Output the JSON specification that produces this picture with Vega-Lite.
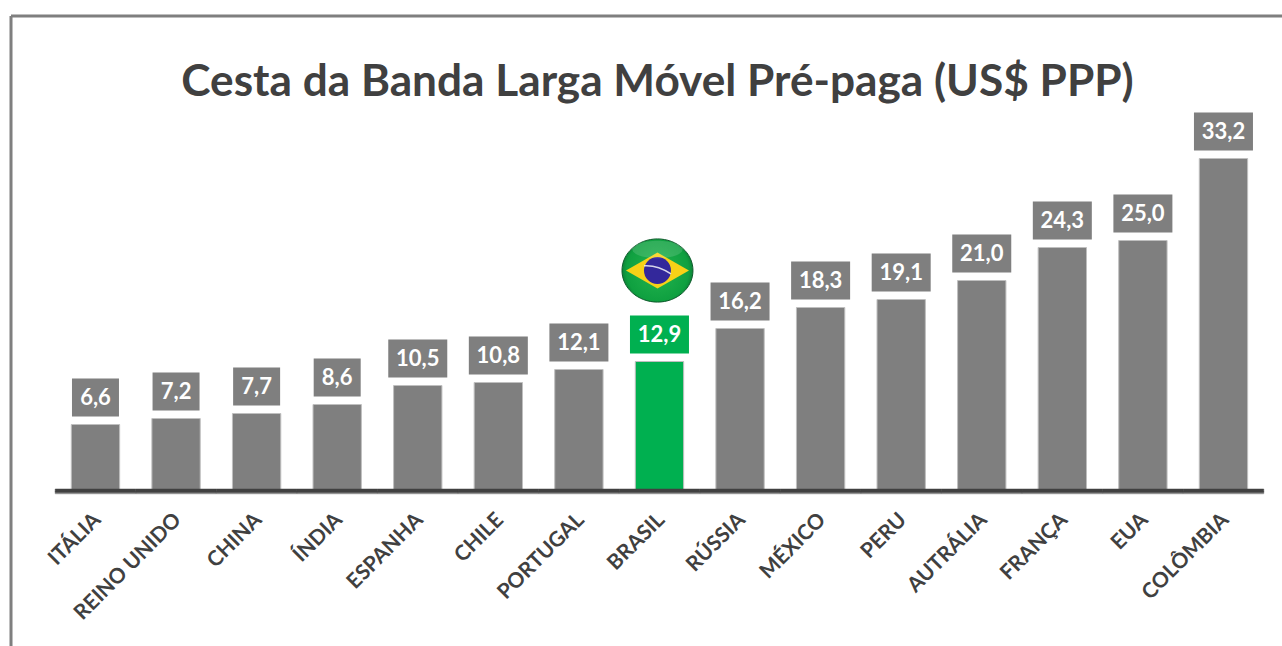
{
  "$schema": "https://vega.github.io/schema/vega-lite/v6.json",
  "width": 1272,
  "height": 631,
  "autosize": "none",
  "padding": {"left": 10.5, "top": 15.5, "right": 0, "bottom": 0},
  "background": "white",
  "config": {"view": {"stroke": null}, "font": "Lato", "locale": {"number": {"decimal": ",", "thousands": ".", "grouping": [3], "currency": ["R$", ""]}}},
  "title": {"text": "Cesta da Banda Larga Móvel Pré-paga (US$ PPP)", "font": "Lato", "fontSize": 44.2, "fontWeight": "bold", "color": "#404040", "anchor": "middle", "dx": 11, "dy": 134, "offset": 0, "baseline": "bottom"},
  "data": {"values": [
    {"pais": "ITÁLIA", "valor": 6.6, "destaque": "Outros"},
    {"pais": "REINO UNIDO", "valor": 7.2, "destaque": "Outros"},
    {"pais": "CHINA", "valor": 7.7, "destaque": "Outros"},
    {"pais": "ÍNDIA", "valor": 8.6, "destaque": "Outros"},
    {"pais": "ESPANHA", "valor": 10.5, "destaque": "Outros"},
    {"pais": "CHILE", "valor": 10.8, "destaque": "Outros"},
    {"pais": "PORTUGAL", "valor": 12.1, "destaque": "Outros"},
    {"pais": "BRASIL", "valor": 12.9, "destaque": "Brasil"},
    {"pais": "RÚSSIA", "valor": 16.2, "destaque": "Outros"},
    {"pais": "MÉXICO", "valor": 18.3, "destaque": "Outros"},
    {"pais": "PERU", "valor": 19.1, "destaque": "Outros"},
    {"pais": "AUTRÁLIA", "valor": 21.0, "destaque": "Outros"},
    {"pais": "FRANÇA", "valor": 24.3, "destaque": "Outros"},
    {"pais": "EUA", "valor": 25.0, "destaque": "Outros"},
    {"pais": "COLÔMBIA", "valor": 33.2, "destaque": "Outros"}
  ]},
  "resolve": {"axis": {"x": "independent"}},
  "encoding": {
    "x": {"field": "pais", "type": "nominal", "sort": null,
      "scale": {"type": "band", "paddingInner": 0, "paddingOuter": 0.3937, "align": 0.7045},
      "axis": null},
    "y": {"field": "valor", "type": "quantitative",
      "scale": {"domain": [-15.6, 47.5], "nice": false, "zero": false},
      "axis": {"orient": "left", "title": null, "labels": false, "ticks": false, "grid": false, "domain": true, "domainColor": "#7f7f7f", "domainWidth": 3}}
  },
  "layer": [
    {
      "mark": {"type": "bar", "width": {"band": 0.6}, "stroke": "#bfbfbf", "strokeWidth": 1},
      "encoding": {
        "x": {"field": "pais", "type": "nominal", "sort": null,
          "axis": {"orient": "bottom", "offset": -156, "title": null, "domain": false, "ticks": false, "labelAngle": -45, "labelAlign": "right", "labelBaseline": "middle", "labelPadding": 26, "labelOffset": 2, "labelFont": "Lato", "labelFontSize": 21, "labelFontWeight": "bold", "labelColor": "#404040", "labelOverlap": false, "grid": false}},
        "y2": {"datum": 0},
        "color": {"field": "destaque", "type": "nominal", "legend": null,
          "scale": {"domain": ["Outros", "Brasil"], "range": ["#7f7f7f", "#00b050"]}}
      }
    },
    {
      "mark": {"type": "bar", "width": {"band": 1}, "color": "#7f7f7f", "stroke": "#7f7f7f", "strokeWidth": 0.5},
      "encoding": {
        "y": {"datum": -0.1, "type": "quantitative"},
        "y2": {"datum": -0.33}
      }
    },
    {
      "mark": {"type": "bar", "width": {"band": 1}, "color": "#404040", "stroke": "#404040", "strokeWidth": 0.5},
      "encoding": {
        "x": {"field": "pais", "type": "nominal", "sort": null,
          "axis": {"orient": "top", "title": null, "labels": false, "ticks": false, "grid": false, "domain": true, "domainColor": "#7f7f7f", "domainWidth": 3}},
        "y": {"datum": 0.15, "type": "quantitative"},
        "y2": {"datum": -0.17}
      }
    },
    {
      "transform": [{"filter": "datum.valor >= 10"}],
      "mark": {"type": "rect", "width": 59, "height": 38, "yOffset": -27},
      "encoding": {
        "color": {"field": "destaque", "type": "nominal", "legend": null}
      }
    },
    {
      "transform": [{"filter": "datum.valor < 10"}],
      "mark": {"type": "rect", "width": 47, "height": 38, "yOffset": -27},
      "encoding": {
        "color": {"field": "destaque", "type": "nominal", "legend": null}
      }
    },
    {
      "mark": {"type": "text", "yOffset": -27, "color": "white", "font": "Lato", "fontSize": 22, "fontWeight": "bold", "baseline": "middle", "align": "center"},
      "encoding": {
        "text": {"field": "valor", "type": "quantitative", "format": ".1f"}
      }
    },
    {
      "transform": [{"filter": "datum.destaque === 'Brasil'"}],
      "layer": [
        {"mark": {"type": "point", "filled": true, "xOffset": -2, "yOffset": -91, "opacity": 1, "strokeWidth": 1, "stroke": "#0c5a2a",
            "shape": "M1,0A1,.89 0 1 1 -1,0A1,.89 0 1 1 1,0Z", "size": 5041,
            "fill": {"gradient": "radial", "x1": 0.5, "y1": 0.5, "r1": 0.1, "x2": 0.5, "y2": 0.5, "r2": 0.55, "stops": [{"offset": 0, "color": "#1fb04c"}, {"offset": 0.75, "color": "#0fa040"}, {"offset": 1, "color": "#0a6e30"}]}}},
        {"mark": {"type": "point", "filled": true, "xOffset": -2, "yOffset": -91, "opacity": 1, "fill": "#f7d117", "stroke": null,
            "shape": "M-1,0L0,-.57L1,0L0,.57Z", "size": 3969}},
        {"mark": {"type": "point", "filled": true, "xOffset": -2, "yOffset": -91, "opacity": 1, "fill": "#33289b", "stroke": null,
            "shape": "circle", "size": 729}},
        {"mark": {"type": "point", "filled": false, "xOffset": -2, "yOffset": -91, "opacity": 0.9, "stroke": "#e8e8f4", "strokeWidth": 1.5,
            "shape": "M-1,-.35Q0,-.42 1,.25", "size": 729}},
        {"mark": {"type": "point", "filled": true, "xOffset": -2, "yOffset": -112, "opacity": 0.14, "stroke": null, "fill": "white",
            "shape": "M1,0A1,.35 0 1 1 -1,0A1,.35 0 1 1 1,0Z", "size": 2500}}
      ]
    }
  ]
}
